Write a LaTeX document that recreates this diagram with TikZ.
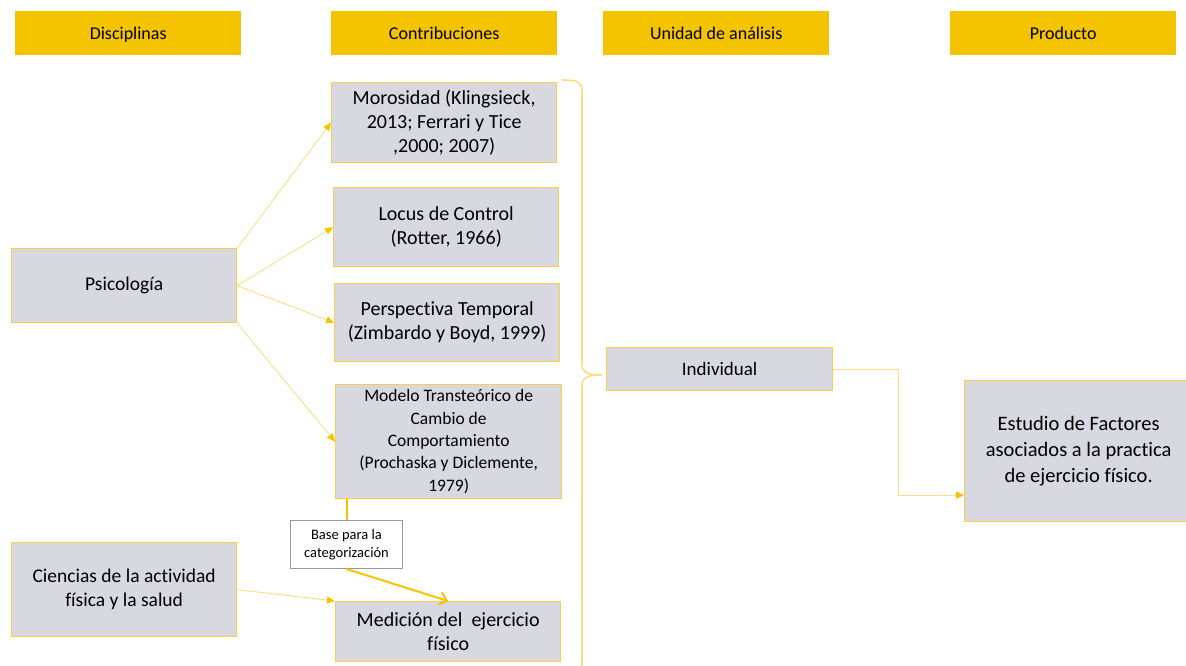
\documentclass[tikz,border=0pt]{standalone}
\usepackage{fontspec}
\setmainfont{Carlito}[Ligatures=NoCommon]
\usetikzlibrary{arrows.meta}
\definecolor{oro}{RGB}{245,196,0}
\definecolor{borde}{RGB}{252,206,70}
\definecolor{gris}{RGB}{215,216,224}
\definecolor{linea}{RGB}{250,222,135}
\tikzset{
    titulo/.style={fill=oro, inner sep=0pt, anchor=north west, minimum width=226pt, minimum height=44pt, text height=12pt, text depth=0pt, font=\fontsize{18}{20}\selectfont}, % cabeceras de columna
    caja/.style={draw=borde, fill=gris, line width=1.3pt, inner sep=0pt, anchor=north west, align=center, font=\fontsize{20}{24}\selectfont}, % cajas grises
    flecha/.style={draw=linea, line width=0.9pt, -{Triangle[length=8pt,width=7pt,color=oro]}} % conectores finos
}

\begin{document}
\begin{tikzpicture}[x=1pt, y=-1pt]
    \useasboundingbox (0,0) rectangle (1186,666);
    \clip (0,0) rectangle (1186,666);

    % cabeceras
    \node[titulo] (disc) at (15,11) {Disciplinas};
    \node[titulo] (contr) at (331,11) {Contribuciones};
    \node[titulo] (unid) at (603,11) {Unidad de análisis};
    \node[titulo] (prod) at (950,11) {Producto};

    % disciplinas
    \node[caja, minimum width=225pt, minimum height=74pt, font=\fontsize{19.5}{24}\selectfont] (psico) at (11,248) {Psicología};
    \node[caja, minimum width=225pt, minimum height=94pt, font=\fontsize{19.5}{24}\selectfont] (ciencias) at (11,542) {Ciencias de la actividad\\física y la salud};

    % contribuciones
    \node[caja, minimum width=225pt, minimum height=80pt] (moro) at (331,82) {Morosidad (Klingsieck,\\2013; Ferrari y Tice\\,2000; 2007)};
    \node[caja, minimum width=225pt, minimum height=79pt] (locus) at (333,187) {Locus de Control\\(Rotter, 1966)};
    \node[caja, minimum width=225pt, minimum height=78pt] (persp) at (334,283) {Perspectiva Temporal\\(Zimbardo y Boyd, 1999)};
    \node[caja, minimum width=226pt, minimum height=114pt, font=\fontsize{17.5}{22.4}\selectfont] (modelo) at (335,384) {Modelo Transteórico de\\Cambio de\\Comportamiento\\(Prochaska y Diclemente,\\1979)};
    \node[caja, minimum width=225pt, minimum height=60pt] (medicion) at (335,601) {Medición del\ \ ejercicio\\físico};
    \node[draw=gray!80, fill=white, line width=1pt, inner sep=0pt, anchor=north west, align=center, minimum width=112pt, minimum height=48pt, font=\fontsize{14.5}{18}\selectfont] (base) at (290,520) {Base para la\\categorización};

    % unidad y producto
    \node[caja, minimum width=226pt, minimum height=43pt, font=\fontsize{19}{24}\selectfont] (indiv) at (606,347) {Individual};
    \node[caja, minimum width=228pt, minimum height=141pt, font=\fontsize{20.5}{26}\selectfont] (estudio) at (964,380) {Estudio de Factores\\asociados a la practica\\de ejercicio físico.};

    % llave
    \draw[linea, line width=1.6pt] (562,80) .. controls (578,80) and (582,82) .. (582,92) -- (582,364)
        .. controls (582,372) and (586,375) .. (602,375) .. controls (586,375) and (582,378) .. (582,386) -- (582,680);

    % conectores
    \draw[flecha] (psico.north east) -- (moro.west);
    \draw[flecha] (psico.east) -- (locus.west);
    \draw[flecha] (psico.east) -- (persp.west);
    \draw[flecha] (psico.south east) -- (modelo.west);
    \draw[flecha] (ciencias.east) -- (medicion.north west);
    \draw[oro, line width=2pt] (modelo.south -| base.north) -- (base.north);
    \draw[oro, line width=2pt, -{Straight Barb[length=7pt,width=13pt]}] (base.south) -- (medicion.north);
    \draw[flecha] (indiv.east) -- ++(65,0) |- ([yshift=-44pt]estudio.west);
\end{tikzpicture}
\end{document}
